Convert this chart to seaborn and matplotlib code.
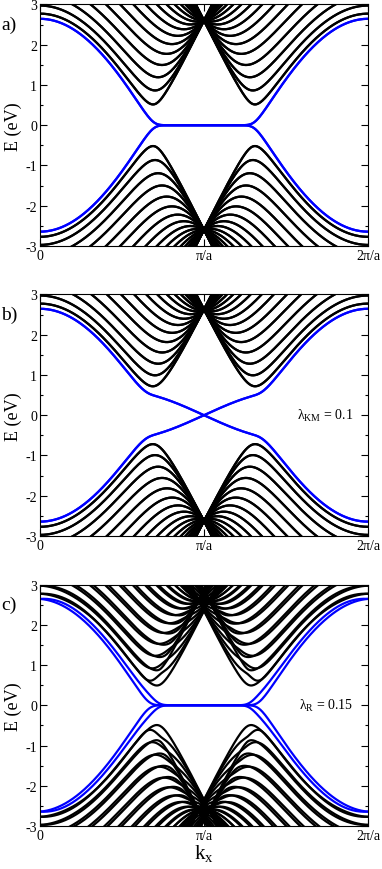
import numpy as np
import pandas as pd
import matplotlib
matplotlib.use("Agg")
import matplotlib.pyplot as plt
import seaborn as sns

# Zigzag graphene nanoribbon bands: a) plain, b) Kane-Mele SOC, c) Rashba SOC

# parameters
hopping_t = 2.6          # eV, bulk bands meet at +-t at k = pi/a
n_chains = 22            # zigzag chains across the ribbon
lambda_km = [0.0, 0.1, 0.0]    # eV
lambda_r = [0.0, 0.0, 0.15]    # eV
panel_labels = ["a)", "b)", "c)"]
param_text = [None, "λ$_\\mathrm{KM}$ = 0.1", "λ$_\\mathrm{R}$ = 0.15"]
xtick_vals = [0, np.pi, 2 * np.pi]
xtick_labels = ["0", "π/a", "2π/a"]
ytick_vals = [-3, -2, -1, 0, 1, 2, 3]

sx = np.array([[0, 1], [1, 0]], complex)
sy = np.array([[0, -1j], [1j, 0]], complex)
sz = np.array([[1, 0], [0, -1]], complex)


def ribbon_sites(n):
    # one unit cell (a = 1) of a zigzag ribbon, two atoms per chain
    pos = []
    for j in range(n):
        pos.append(((j / 2) % 1, j * np.sqrt(3) / 2 + 1 / np.sqrt(3)))
        pos.append((((j + 1) / 2) % 1, (j + 1) * np.sqrt(3) / 2))
    return np.array(pos)


def ribbon_bands(n, t, lso, lr, ks):
    pos = ribbon_sites(n)
    ns = len(pos)
    acc = 1 / np.sqrt(3)
    hm = {m: np.zeros((2 * ns, 2 * ns), complex) for m in (-1, 0, 1)}
    for i in range(ns):
        for j in range(ns):
            for m in (-1, 0, 1):
                d = pos[j] + np.array([m, 0]) - pos[i]
                dist = np.hypot(*d)
                blk = None
                if abs(dist - acc) < 1e-6:
                    # nearest neighbours: hopping + Rashba
                    dh = d / dist
                    blk = -t * np.eye(2) + 1j * lr * (sx * dh[1] - sy * dh[0])
                elif abs(dist - 1) < 1e-6 and lso != 0:
                    # next-nearest neighbours: Kane-Mele term
                    for kk in range(ns):
                        for mk in (-1, 0, 1):
                            d1 = pos[kk] + np.array([mk, 0]) - pos[i]
                            d2 = pos[j] + np.array([m - mk, 0]) - pos[kk]
                            if abs(np.hypot(*d1) - acc) < 1e-6 and abs(np.hypot(*d2) - acc) < 1e-6:
                                nu = np.sign(d1[0] * d2[1] - d1[1] * d2[0])
                                blk = 1j * lso * nu * sz
                if blk is not None:
                    hm[m][2 * i:2 * i + 2, 2 * j:2 * j + 2] += blk
    return np.array([np.linalg.eigvalsh(sum(hm[m] * np.exp(1j * k * m) for m in hm))
                     for k in ks])


k_grid = np.linspace(0, 2 * np.pi, 361)

plt.rcParams["font.family"] = ["Liberation Serif", "DejaVu Serif"]
plt.rcParams["axes.unicode_minus"] = False
plt.rcParams["mathtext.fontset"] = "custom"
plt.rcParams["mathtext.rm"] = "Liberation Serif"
plt.rcParams["mathtext.it"] = "Liberation Serif:italic"

fig = plt.figure(figsize=(3.82, 8.70))
axes_bottom = [0.7161, 0.3828, 0.0494]
ax_left, ax_w, ax_h = 0.1047, 0.8586, 0.2776

for p in range(3):
    e = ribbon_bands(n_chains, hopping_t, lambda_km[p], lambda_r[p], k_grid)
    nb = e.shape[1]
    mid = nb // 2
    rows = []
    for b in range(nb):
        rows.append(pd.DataFrame({"k": k_grid, "E": e[:, b], "band": b,
                                  "edge": (mid - 2) <= b <= (mid + 1)}))
    df = pd.concat(rows, ignore_index=True)

    ax = fig.add_axes([ax_left, axes_bottom[p], ax_w, ax_h])
    sns.lineplot(data=df[~df.edge], x="k", y="E", units="band", estimator=None,
                 color="black", linewidth=1.6, sort=False, ax=ax)
    sns.lineplot(data=df[df.edge], x="k", y="E", units="band", estimator=None,
                 color="#0000ff", linewidth=1.6, sort=False, ax=ax)
    ax.set_xlim(0, 2 * np.pi)
    ax.set_ylim(-3, 3)
    ax.set_xticks(xtick_vals, xtick_labels)
    ax.set_yticks(ytick_vals)
    ax.set_yticks(np.arange(-2.5, 3, 1), minor=True)
    ax.tick_params(which="both", direction="in", left=True, right=True,
                   top=True, bottom=True, labelsize=10, pad=2)
    ax.tick_params(which="major", length=5, width=0.8)
    ax.tick_params(which="minor", length=2.5, width=0.8)
    ax.set_xlabel("")
    ax.set_ylabel("")
    for s in ax.spines.values():
        s.set_linewidth(0.8)

    if param_text[p]:
        ax.text(0.955, 0.5, param_text[p], transform=ax.transAxes,
                ha="right", va="center", fontsize=10)
    top = axes_bottom[p] + ax_h
    fig.text(0.003, top - 20 / 870, panel_labels[p], ha="left", va="center", fontsize=14)
    fig.text(13 / 382, axes_bottom[p] + ax_h / 2, "E (eV)", rotation=90,
             ha="center", va="center", fontsize=13)
    if p == 2:
        ax.set_xlabel("k$_\\mathrm{x}$", fontsize=15, labelpad=0)

fig.savefig("out.png", dpi=100)
